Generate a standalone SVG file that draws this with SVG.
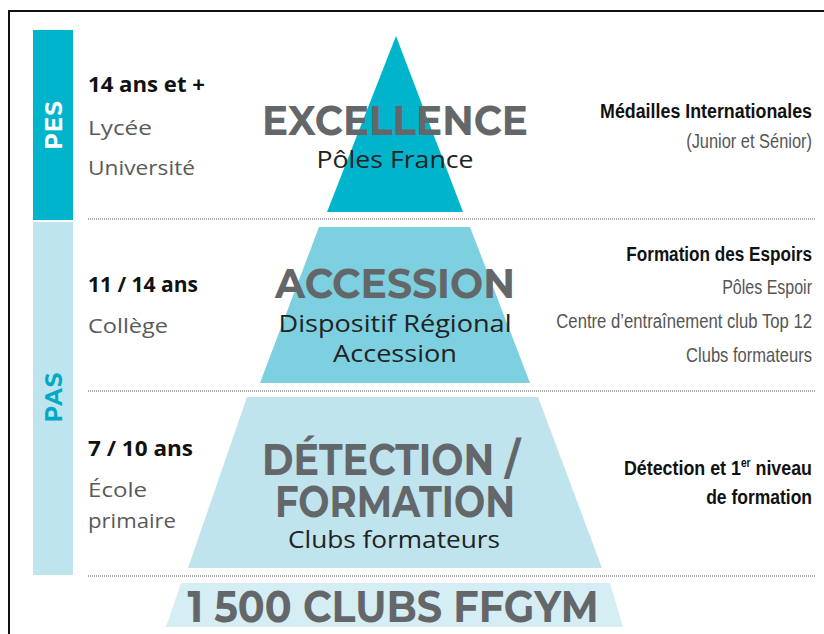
<svg xmlns="http://www.w3.org/2000/svg" width="824" height="634" viewBox="0 0 824 634">
<defs>
<style>
.big{font-family:Montserrat,"Open Sans","Liberation Sans",sans-serif;font-weight:700;fill:#646769;text-anchor:middle}
.sub{font-family:"Open Sans","Liberation Sans",sans-serif;fill:#222;text-anchor:middle}
.age{font-family:"Open Sans","Liberation Sans",sans-serif;font-weight:700;fill:#111;font-size:21px}
.lvl{font-family:"Open Sans","Liberation Sans",sans-serif;fill:#5a5a5a;font-size:20px}
.rb{font-family:"Liberation Sans",sans-serif;font-weight:700;fill:#111;font-size:21px;text-anchor:end}
.rn{font-family:"Liberation Sans",sans-serif;fill:#555;font-size:20px;text-anchor:end}
.sep{stroke:#aaa;stroke-width:2;stroke-dasharray:1 1}
</style>
</defs>
<rect width="824" height="634" fill="#fff"/>
<path d="M9 634 V11 H824" fill="none" stroke="#111" stroke-width="2"/>

<g id="pes-bar">
<rect x="33" y="30" width="40" height="190" fill="#00B5CB"/>
<text transform="translate(62,125) rotate(-90)" text-anchor="middle" font-family="Montserrat,'Open Sans','Liberation Sans',sans-serif" font-weight="700" font-size="23" fill="#fff" letter-spacing="1">PES</text>
</g>
<g id="pas-bar">
<rect x="33" y="222" width="40" height="353" fill="#BEE5EE"/>
<text transform="translate(62,397) rotate(-90)" text-anchor="middle" font-family="Montserrat,'Open Sans','Liberation Sans',sans-serif" font-weight="700" font-size="23" fill="#00A9C6" letter-spacing="1">PAS</text>
</g>

<g id="separators">
<line class="sep" x1="88" y1="219" x2="815" y2="219"/>
<line class="sep" x1="88" y1="391" x2="815" y2="391"/>
<line class="sep" x1="88" y1="576" x2="815" y2="576"/>
</g>

<g id="excellence">
<polygon points="396,36 463,212 327,212" fill="#00B5CB"/>
<text class="big" x="395" y="135" font-size="42" textLength="266" lengthAdjust="spacingAndGlyphs">EXCELLENCE</text>
<text class="sub" x="395" y="168" font-size="24" textLength="157" lengthAdjust="spacingAndGlyphs">Pôles France</text>
</g>

<g id="accession">
<polygon points="319,227 470,227 530,383 260,383" fill="#7DD0DF"/>
<text class="big" x="395" y="298" font-size="42" textLength="240" lengthAdjust="spacingAndGlyphs">ACCESSION</text>
<text class="sub" x="395" y="332" font-size="24" textLength="233" lengthAdjust="spacingAndGlyphs">Dispositif Régional</text>
<text class="sub" x="395" y="362" font-size="24" textLength="124" lengthAdjust="spacingAndGlyphs">Accession</text>
</g>

<g id="detection">
<polygon points="247,397 538,397 602,568 188,568" fill="#BFE4ED"/>
<text class="big" x="391" y="475" font-size="43" textLength="258" lengthAdjust="spacingAndGlyphs">DÉTECTION /</text>
<text class="big" x="395" y="517" font-size="43" textLength="240" lengthAdjust="spacingAndGlyphs">FORMATION</text>
<text class="sub" x="394" y="548" font-size="24" textLength="212" lengthAdjust="spacingAndGlyphs">Clubs formateurs</text>
</g>

<g id="clubs">
<polygon points="181,583 610,583 623,627 166,627" fill="#D5EEF3"/>
<text class="big" x="393" y="622" font-size="44" textLength="411" lengthAdjust="spacingAndGlyphs">1 500 CLUBS FFGYM</text>
</g>

<g id="left-labels">
<text class="age" x="88" y="92" textLength="117" lengthAdjust="spacingAndGlyphs">14 ans et +</text>
<text class="lvl" x="88" y="135" textLength="64" lengthAdjust="spacingAndGlyphs">Lycée</text>
<text class="lvl" x="88" y="175" textLength="107" lengthAdjust="spacingAndGlyphs">Université</text>
<text class="age" x="88" y="292" textLength="110" lengthAdjust="spacingAndGlyphs">11 / 14 ans</text>
<text class="lvl" x="88" y="333" textLength="80" lengthAdjust="spacingAndGlyphs">Collège</text>
<text class="age" x="88" y="456" textLength="105" lengthAdjust="spacingAndGlyphs">7 / 10 ans</text>
<text class="lvl" x="88" y="497" textLength="59" lengthAdjust="spacingAndGlyphs">École</text>
<text class="lvl" x="88" y="528" textLength="88" lengthAdjust="spacingAndGlyphs">primaire</text>
</g>

<g id="right-labels">
<text class="rb" transform="translate(812,118) scale(0.849,1)">Médailles Internationales</text>
<text class="rn" transform="translate(812,148) scale(0.821,1)">(Junior et Sénior)</text>
<text class="rb" transform="translate(812,261) scale(0.817,1)">Formation des Espoirs</text>
<text class="rn" transform="translate(812,294) scale(0.80,1)">Pôles Espoir</text>
<text class="rn" transform="translate(812,328) scale(0.835,1)">Centre d’entraînement club Top 12</text>
<text class="rn" transform="translate(812,362) scale(0.827,1)">Clubs formateurs</text>
<text class="rb" transform="translate(812,475) scale(0.85,1)">Détection et 1<tspan font-size="12" dy="-8">er</tspan><tspan dy="8"> niveau</tspan></text>
<text class="rb" transform="translate(812,504) scale(0.833,1)">de formation</text>
</g>
</svg>
